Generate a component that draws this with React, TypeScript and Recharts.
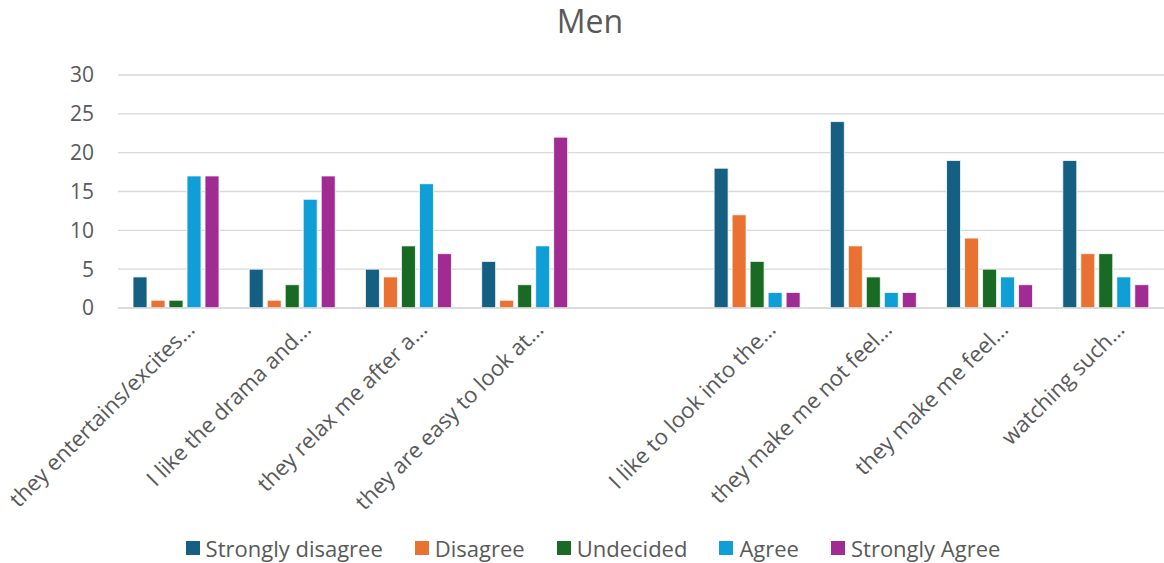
import React from "react";
import { BarChart, Bar, XAxis, YAxis, CartesianGrid, Legend } from "recharts";

const categories = [
  "they entertains/excites…",
  "I like the drama and…",
  "they relax me after a…",
  "they are easy to look at…",
  "",
  "I like to look into the…",
  "they make me not feel…",
  "they make me feel…",
  "watching such…",
];

const stronglyDisagree = [4, 5, 5, 6, null, 18, 24, 19, 19];
const disagree = [1, 1, 4, 1, null, 12, 8, 9, 7];
const undecided = [1, 3, 8, 3, null, 6, 4, 5, 7];
const agree = [17, 14, 16, 8, null, 2, 2, 4, 4];
const stronglyAgree = [17, 17, 7, 22, null, 2, 2, 3, 3];

const yTicks = [0, 5, 10, 15, 20, 25, 30];

const series = [
  { key: "sd", name: "Strongly disagree", color: "#156082", values: stronglyDisagree },
  { key: "d", name: "Disagree", color: "#E97132", values: disagree },
  { key: "u", name: "Undecided", color: "#196B24", values: undecided },
  { key: "a", name: "Agree", color: "#0F9ED5", values: agree },
  { key: "sa", name: "Strongly Agree", color: "#A02B93", values: stronglyAgree },
];

const data = categories.map((name, i) => {
  const row: Record<string, string | number | null> = { name };
  series.forEach((s) => {
    row[s.key] = s.values[i];
  });
  return row;
});

const FONT = "'Open Sans', sans-serif";
const TEXT = "#595959";

function CategoryTick(props: any) {
  const { x, y, payload } = props;
  return (
    <g transform={`translate(${x + 20},${y + 15}) rotate(-45)`}>
      <text x={0} y={0} textAnchor="end" fill={TEXT} fontSize={22} fontFamily={FONT}>
        {payload.value}
      </text>
    </g>
  );
}

function LegendContent() {
  return (
    <div
      style={{
        display: "flex",
        justifyContent: "center",
        fontFamily: FONT,
        fontSize: 22,
        color: TEXT,
        lineHeight: "30px",
        paddingLeft: 22,
      }}
    >
      {series.map((s) => (
        <div key={s.key} style={{ display: "flex", alignItems: "center", margin: "0 16px" }}>
          <span style={{ width: 14, height: 14, background: s.color, marginRight: 6, display: "inline-block" }} />
          <span>{s.name}</span>
        </div>
      ))}
    </div>
  );
}

export default function App() {
  return (
    <div style={{ position: "absolute", left: 0, top: 0, width: 1164, height: 563, background: "#fff" }}>
      <div
        style={{
          position: "absolute",
          top: 2,
          left: 0,
          width: 1164,
          boxSizing: "border-box",
          paddingLeft: 16,
          textAlign: "center",
          fontFamily: FONT,
          fontSize: 32,
          lineHeight: "38px",
          color: TEXT,
        }}
      >
        Men
      </div>
      <BarChart
        width={1164}
        height={563}
        data={data}
        margin={{ top: 75, right: 0, left: 0, bottom: 25 }}
        barSize={14}
        barGap={4}
      >
        <CartesianGrid vertical={false} stroke="#d9d9d9" strokeWidth={1.3} />
        <XAxis
          dataKey="name"
          interval={0}
          height={200}
          tickLine={false}
          axisLine={{ stroke: "#d9d9d9", strokeWidth: 1.3 }}
          tick={<CategoryTick />}
        />
        <YAxis
          width={118}
          domain={[0, 30]}
          ticks={yTicks}
          axisLine={false}
          tickLine={false}
          tick={{ fill: TEXT, fontSize: 21, fontFamily: FONT, dx: -16 }}
        />
        <Legend verticalAlign="bottom" content={<LegendContent />} wrapperStyle={{ bottom: 0 }} />
        {series.map((s) => (
          <Bar
            key={s.key}
            dataKey={s.key}
            name={s.name}
            fill={s.color}
            stroke="#ffffff"
            strokeWidth={0.8}
            isAnimationActive={false}
          />
        ))}
      </BarChart>
    </div>
  );
}
